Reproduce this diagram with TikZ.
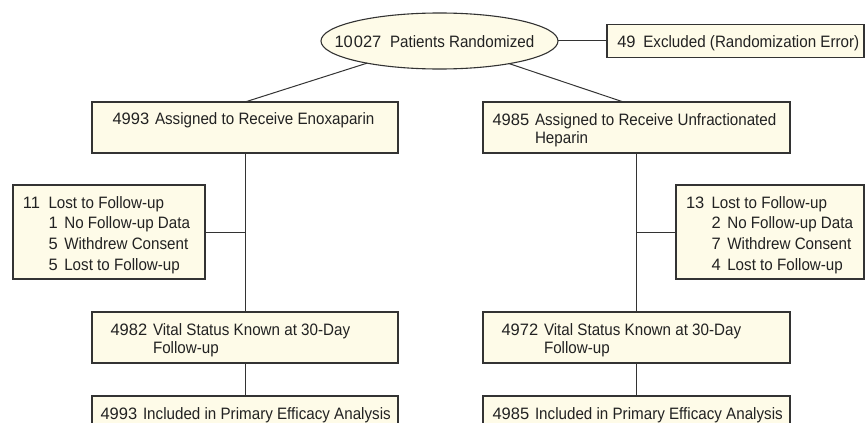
\documentclass[tikz,border=0pt]{standalone}
\usepackage{fontspec}
\setmainfont{Liberation Sans}[FakeStretch=0.92]
\newfontfamily\numfont{Liberation Sans}
\usetikzlibrary{shapes.geometric,calc}
\definecolor{fillc}{HTML}{FEFBE8}
\definecolor{linec}{HTML}{333333}
\definecolor{textc}{HTML}{222222}
\newcommand{\twoline}{\fontsize{16.5}{18.3}\selectfont}
\newcommand{\lostfont}{\fontsize{16.5}{20.6}\selectfont}
\newcommand{\numcol}[1]{\makebox[42.5pt][l]{\numfont #1}}
\newcommand{\lostnum}[1]{\makebox[25.5pt][l]{\numfont #1}}
\newcommand{\subnum}[1]{\makebox[15.8pt][l]{\numfont #1}}
\begin{document}
\begin{tikzpicture}[x=1pt,y=-1pt,
  boxnode/.style={draw=linec, fill=fillc, line width=1.1pt, inner sep=0pt, outer sep=0pt, rectangle},
  ellnode/.style={draw=linec, fill=fillc, line width=1.1pt, inner sep=0pt, outer sep=0pt, ellipse},
  txt/.style={anchor=base west, inner sep=0pt, outer sep=0pt, text=textc, font=\twoline},
  conn/.style={draw=linec, line width=1pt}]
\useasboundingbox (0,0) rectangle (865,423);
% boxes
\node[ellnode, minimum width=237, minimum height=56] (ell) at (439.5,41) {};
\node[boxnode, minimum width=257, minimum height=33.3] (excl) at (735.5,40.7) {};
\node[boxnode, minimum width=306, minimum height=51] (a1) at (245,127.5) {};
\node[boxnode, minimum width=307, minimum height=51] (a2) at (636.5,127.5) {};
\node[boxnode, minimum width=192, minimum height=94] (l1) at (109,232) {};
\node[boxnode, minimum width=188, minimum height=94] (l2) at (770,232) {};
\node[boxnode, minimum width=306, minimum height=51] (v1) at (245,337.5) {};
\node[boxnode, minimum width=307, minimum height=51] (v2) at (636.5,337.5) {};
\node[boxnode, minimum width=306, minimum height=60] (b1) at (245,426) {};
\node[boxnode, minimum width=307, minimum height=60] (b2) at (636.5,426) {};
% connectors
\coordinate (j1) at (245,232);
\coordinate (j2) at (636.5,232);
\coordinate (a2in) at ($(a2.north)+(-13,0)$);
\draw[conn] (excl.west) -- (excl.west -| ell.east);
\draw[conn] (ell.197) -- (a1.north);
\draw[conn] (ell.342) -- (a2in);
\draw[conn] (a1.south) -- (v1.north);
\draw[conn] (a2.south) -- (v2.north);
\draw[conn] (l1.east) -- (j1);
\draw[conn] (l2.west) -- (j2);
\draw[conn] (v1.south) -- (b1.north);
\draw[conn] (v2.south) -- (b2.north);
% texts
\node[txt] (tell) at (334.5,47) {\makebox[55.5pt][l]{\numfont 10\hspace{1pt}027}Patients Randomized};
\node[txt] (texcl) at (617.3,47) {\makebox[26pt][l]{\numfont 49}Excluded (Randomization Error)};
\node[txt] (ta1) at (112.5,124.4) {\begin{tabular}[t]{@{}l@{}l@{}}\numcol{4993}&Assigned to Receive Enoxaparin\end{tabular}};
\node[txt] (ta2) at (492.5,125) {\begin{tabular}[t]{@{}l@{}l@{}}\numcol{4985}&Assigned to Receive Unfractionated\\&Heparin\end{tabular}};
\node[txt, font=\lostfont] (tl1) at (23,208.3) {\begin{tabular}[t]{@{}l@{}l@{}l@{}}\lostnum{11}&\multicolumn{2}{@{}l@{}}{Lost to Follow-up}\\&\subnum{1}&No Follow-up Data\\&\subnum{5}&Withdrew Consent\\&\subnum{5}&Lost to Follow-up\end{tabular}};
\node[txt, font=\lostfont] (tl2) at (686,208.3) {\begin{tabular}[t]{@{}l@{}l@{}l@{}}\lostnum{13}&\multicolumn{2}{@{}l@{}}{Lost to Follow-up}\\&\subnum{2}&No Follow-up Data\\&\subnum{7}&Withdrew Consent\\&\subnum{4}&Lost to Follow-up\end{tabular}};
\node[txt] (tv1) at (110.5,335) {\begin{tabular}[t]{@{}l@{}l@{}}\numcol{4982}&Vital Status Known at 30-Day\\&Follow-up\end{tabular}};
\node[txt] (tv2) at (501.5,335) {\begin{tabular}[t]{@{}l@{}l@{}}\numcol{4972}&Vital Status Known at 30-Day\\&Follow-up\end{tabular}};
\node[txt] (tb1) at (100.5,419) {\begin{tabular}[t]{@{}l@{}l@{}}\numcol{4993}&Included in Primary Efficacy Analysis\end{tabular}};
\node[txt] (tb2) at (492.5,419) {\begin{tabular}[t]{@{}l@{}l@{}}\numcol{4985}&Included in Primary Efficacy Analysis\end{tabular}};
\end{tikzpicture}
\end{document}
